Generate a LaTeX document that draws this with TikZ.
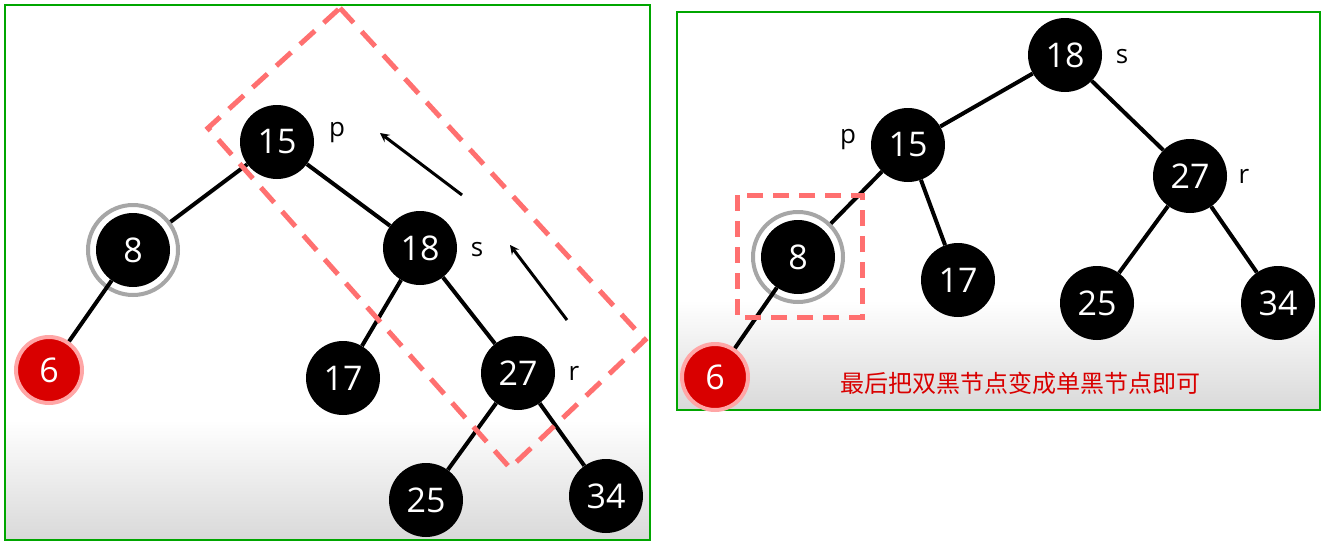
\documentclass[tikz,border=0pt]{standalone}
\usepackage{fontspec}
\setmainfont{Open Sans}
\newfontfamily\cjk{Noto Sans CJK SC}
\begin{document}
\begin{tikzpicture}[x=1pt,y=-1pt,
  rb/.style={circle,fill=black,text=white,minimum size=74pt,inner sep=0pt,font=\fontsize{34}{34}\selectfont},
  redn/.style={circle,fill=red!85!black,draw=red!35,line width=4pt,text=white,minimum size=66pt,inner sep=0pt,font=\fontsize{34}{34}\selectfont},
  ring/.style={circle,draw=gray!70,line width=4pt,fill=white,minimum size=90pt,inner sep=0pt},
  lbl/.style={font=\fontsize{26}{26}\selectfont},
  edge/.style={line width=4pt},
  dsh/.style={draw=red!50!pink!90!white,dashed,dash pattern=on 20pt off 12pt,line width=5pt},
  panel/.style={draw=green!65!black,line width=2pt}]
\useasboundingbox (0,0) rectangle (1328,544);
\fill[white] (0,0) rectangle (1328,544);
\shade[top color=white,bottom color=gray!30] (5,420) rectangle (650,540);
\shade[top color=white,bottom color=gray!30] (677,300) rectangle (1320,410);
\draw[panel] (5,5) rectangle (650,540);
\draw[panel] (677,12) rectangle (1320,410);
% left tree
\node[ring] (r8) at (133,250) {};
\node[rb] (a15) at (277,142) {15};
\node[rb] (a8) at (133,250) {8};
\node[redn] (a6) at (49,370) {6};
\node[rb] (a18) at (420,248) {18};
\node[rb] (a17) at (343,378) {17};
\node[rb] (a27) at (518,373) {27};
\node[rb] (a25) at (426,500) {25};
\node[rb] (a34) at (606,496) {34};
\draw[edge] (a15)--(r8) (a15)--(a18) (a8)--(a6) (a18)--(a17) (a18)--(a27) (a27)--(a25) (a27)--(a34);
\node[lbl] (lp) at (337,133) {p};
\node[lbl] (ls) at (477,250) {s};
\node[lbl] (lr) at (574,373) {r};
\coordinate (d1) at (340,8); \coordinate (d2) at (645,340);
\coordinate (d3) at (510,468); \coordinate (d4) at (208,128);
\draw[dsh] (d1)--(d2)--(d3)--(d4)--cycle;
\coordinate (ar1s) at (462,195); \coordinate (ar1e) at (380,133);
\coordinate (ar2s) at (567,320); \coordinate (ar2e) at (510,245);
\draw[line width=3pt,-stealth] (ar1s)--(ar1e);
\draw[line width=3pt,-stealth] (ar2s)--(ar2e);
% right tree
\node[ring] (r8b) at (798,257) {};
\node[rb] (b18) at (1065,55) {18};
\node[rb] (b15) at (908,145) {15};
\node[rb] (b27) at (1190,176) {27};
\node[rb] (b8) at (798,257) {8};
\node[redn] (b6) at (715,377) {6};
\node[rb] (b17) at (958,280) {17};
\node[rb] (b25) at (1097,303) {25};
\node[rb] (b34) at (1278,303) {34};
\draw[edge] (b18)--(b15) (b18)--(b27) (b15)--(r8b) (b15)--(b17) (b8)--(b6) (b27)--(b25) (b27)--(b34);
\node[lbl] (mp) at (848,140) {p};
\node[lbl] (ms) at (1122,57) {s};
\node[lbl] (mr) at (1244,176) {r};
\draw[dsh,dash pattern=on 16pt off 10pt] (737,195) rectangle (862,317);
\node[text=red!85!black,font=\cjk\fontsize{24}{24}\selectfont] (txt) at (1020,383) {最后把双黑节点变成单黑节点即可};
\end{tikzpicture}
\end{document}
